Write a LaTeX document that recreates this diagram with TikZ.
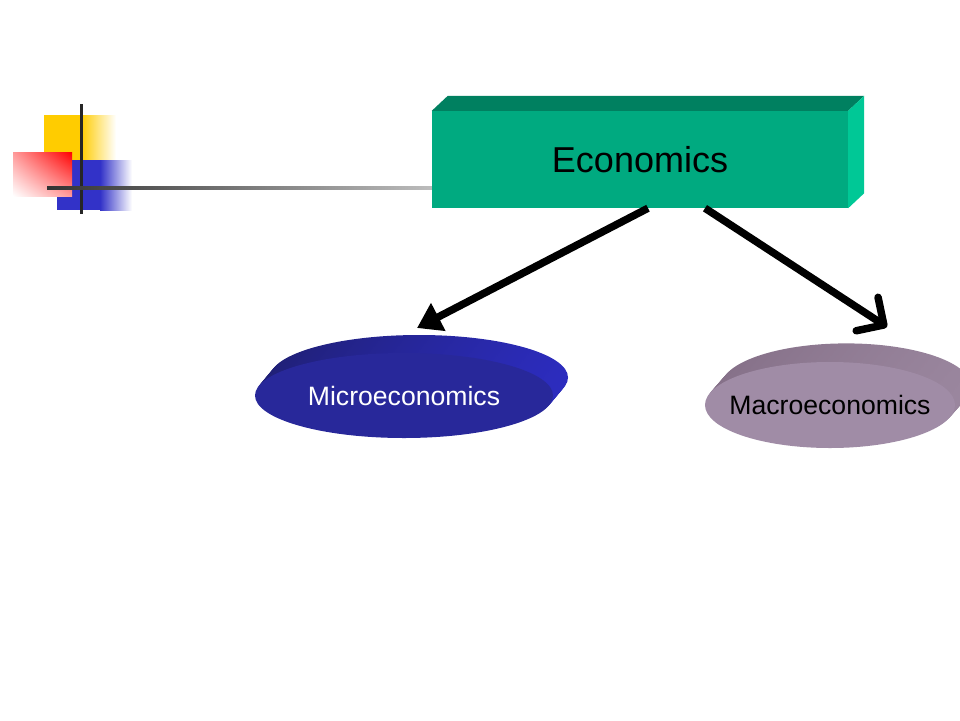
\documentclass[tikz,border=0pt]{standalone}
\usepackage{fontspec}
\setmainfont{Liberation Sans}
\usetikzlibrary{shapes.geometric,arrows.meta,calc,shadings}
\definecolor{ecofront}{RGB}{0,170,128}
\definecolor{ecotop}{RGB}{0,128,96}
\definecolor{ecoside}{RGB}{0,200,150}
\definecolor{microface}{RGB}{40,40,154}
\definecolor{microtop}{RGB}{32,32,118}
\definecolor{microside}{RGB}{44,44,190}
\definecolor{macroface}{RGB}{160,140,166}
\definecolor{macrotop}{RGB}{133,112,136}
\definecolor{macroside}{RGB}{154,134,158}
\definecolor{sqyellow}{RGB}{255,204,0}
\definecolor{sqred}{RGB}{255,0,0}
\definecolor{sqblue}{RGB}{50,50,200}
\begin{document}
\begin{tikzpicture}[
  x = 1pt, y = -1pt,
  ecobox/.style = {rectangle, fill = ecofront, inner sep = 0pt,
                   minimum width = 416pt, minimum height = 97pt,
                   font = \fontsize{36}{40}\selectfont},
  disk/.style = {ellipse, inner sep = 0pt, font = \fontsize{26.6}{30}\selectfont},
  bigarrow/.style = {line width = 7.5pt, black},
  ]
  \useasboundingbox (0,0) rectangle (960,720);
  \fill[white] (0,0) rectangle (960,720);

  \fill[sqyellow] (44,115) rectangle (81,160);
  \shade[left color = sqyellow, right color = white] (81,115) rectangle (116,160);
  \fill[sqblue] (57,160) rectangle (100,210);
  \shade[left color = sqblue, right color = white] (100,160) rectangle (132,210);
  \shade[upper right = sqred, lower left = white,
         upper left = sqred!40!white, lower right = sqred!40!white] (13,152) rectangle (72,196);
  \fill[black!85] (79.5,104) rectangle (82.5,214);
  \shade[left color = black!80, right color = black!25] (47,186.5) rectangle (440,189.5);

  \node[ecobox] (eco) at (640,159.5) {Economics};
  \fill[ecotop] (eco.north west) -- ++(16,-15) -- ($(eco.north east)+(16,-15)$) -- (eco.north east) -- cycle;
  \fill[ecoside] (eco.north east) -- ++(16,-15) -- ($(eco.south east)+(16,-15)$) -- (eco.south east) -- cycle;

  \coordinate (microc) at (404,395.5);
  \foreach \k in {12,11,...,1}
    \shade[left color = microtop, right color = microside]
      ($(microc)+(\k*1.25,-\k*1.5)$) ellipse [x radius = 149, y radius = 42.5];
  \node[disk, fill = microface, text = white, minimum width = 298pt, minimum height = 85pt]
    (micro) at (microc) {\makebox[0pt]{Microeconomics}};

  \coordinate (macroc) at (830,405);
  \foreach \k in {12,11,...,1}
    \shade[left color = macrotop, right color = macroside]
      ($(macroc)+(\k*1.35,-\k*1.55)$) ellipse [x radius = 125, y radius = 43];
  \node[disk, fill = macroface, text = black, minimum width = 250pt, minimum height = 86pt]
    (macro) at (macroc) {\makebox[0pt]{Macroeconomics}};

  \coordinate (microtip) at (417,328);
  \coordinate (macrotip) at (887,327);
  \draw[bigarrow, -{Triangle[length = 24pt, width = 30pt]}] ([xshift = 8pt]eco.south) -- (microtip);
  \draw[bigarrow, -{Straight Barb[length = 20pt, width = 40pt, round]}] ([xshift = 65pt]eco.south) -- (macrotip);
\end{tikzpicture}
\end{document}
